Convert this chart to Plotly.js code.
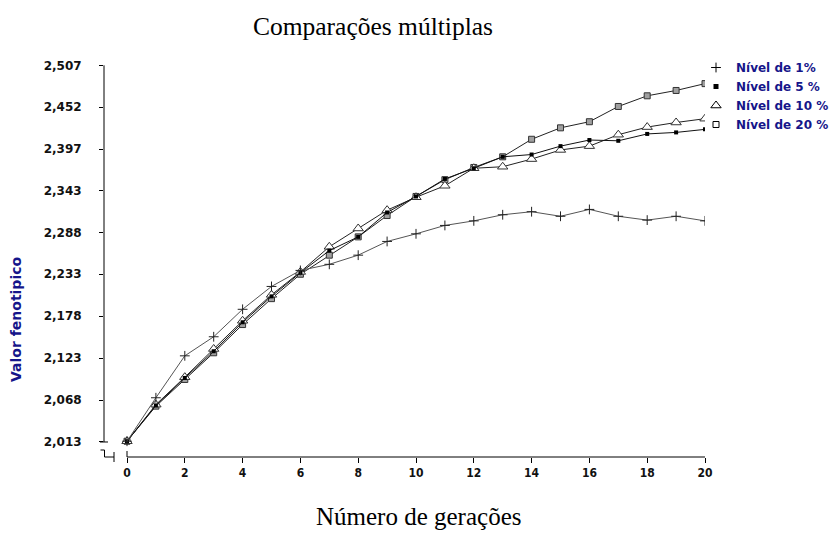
<!DOCTYPE html>
<html>
<head>
<meta charset="utf-8">
<script src="https://cdn.plot.ly/plotly-3.0.1.min.js"></script>
<style>html,body{margin:0;padding:0;background:#fff;}#chart{width:829px;height:533px;}</style>
</head>
<body>
<div id="chart"></div>
<script>
// ---- data ----
var geracoes = [0,1,2,3,4,5,6,7,8,9,10,11,12,13,14,15,16,17,18,19,20];
var nivel1  = [2.014,2.071,2.126,2.151,2.187,2.217,2.238,2.246,2.258,2.276,2.286,2.297,2.303,2.311,2.315,2.309,2.318,2.309,2.304,2.309,2.303];
var nivel5  = [2.014,2.061,2.097,2.132,2.170,2.204,2.235,2.264,2.282,2.314,2.335,2.358,2.372,2.387,2.390,2.401,2.409,2.408,2.417,2.419,2.423];
var nivel10 = [2.014,2.062,2.098,2.135,2.172,2.206,2.236,2.269,2.293,2.317,2.334,2.349,2.372,2.374,2.384,2.396,2.401,2.416,2.426,2.432,2.437];
var nivel20 = [2.014,2.060,2.095,2.130,2.167,2.201,2.233,2.258,2.282,2.310,2.335,2.357,2.373,2.387,2.410,2.425,2.433,2.453,2.467,2.474,2.483];
var seriesNames = ['Nível de 1%','Nível de 5 %','Nível de 10 %','Nível de 20 %'];
var yTickVals  = [2.013,2.068,2.123,2.178,2.233,2.288,2.343,2.397,2.452,2.507];
var yTickText  = ['2,013','2,068','2,123','2,178','2,233','2,288','2,343','2,397','2,452','2,507'];
var xTickVals  = [0,2,4,6,8,10,12,14,16,18,20];

// ---- layout geometry (pixels) ----
var W = 829, H = 533;
var M = {l:104, r:124, t:65, b:76, autoexpand:false};
var plotW = W - M.l - M.r, plotH = H - M.t - M.b;
function px(x){ return (x - M.l) / plotW; }      // pixel -> paper x
function py(y){ return (H - M.b - y) / plotH; }  // pixel -> paper y

var styles = [
  {symbol:'cross-thin', size:7, color:'#222', line:{width:1, color:'#222'}, lc:'#555'},
  {symbol:'square', size:4, color:'#000', line:{width:0}, lc:'#111'},
  {symbol:'triangle-up', size:9, color:'#ffffff', line:{width:1, color:'#333'}, lc:'#222'},
  {symbol:'square', size:6, color:'#a0a0a0', line:{width:1, color:'#333'}, lc:'#222'}
];
var legendSyms = [
  {symbol:'cross-thin', size:7, color:'#000', line:{width:1, color:'#000'}},
  {symbol:'square', size:5, color:'#000', line:{width:0}},
  {symbol:'triangle-up-open', size:9, color:'#000', line:{width:1}},
  {symbol:'square-open', size:6, color:'#000', line:{width:1}}
];
var ys = [nivel1, nivel5, nivel10, nivel20];
var traces = [];
for (var i = ys.length - 1; i >= 0; i--) {
  var s = styles[i];
  traces.push({
    x: geracoes, y: ys[i], type:'scatter', mode:'lines+markers', name: seriesNames[i],
    showlegend:false,
    line:{color:s.lc, width:1},
    marker:{symbol:s.symbol, size:s.size, color:s.color, line:s.line}
  });
}
for (var j = 0; j < ys.length; j++) {
  traces.push({
    x:[null], y:[null], type:'scatter', mode:'markers', name: seriesNames[j],
    marker: legendSyms[j]
  });
}

var tickFont = {family:'DejaVu Sans, Verdana, sans-serif', size:12, color:'#111', weight:'bold'};
var navy = '#15158a';

var shapes = [
  {type:'line', xref:'paper', yref:'y', x0:0, x1:0, y0:2.013, y1:2.507, line:{color:'#000', width:1}},
  {type:'line', xref:'paper', yref:'y', x0:px(100), x1:px(108), y0:2.013, y1:2.013, line:{color:'#000', width:1}},
  {type:'path', xref:'paper', yref:'paper',
   path:'M '+px(100.5)+','+py(450)+' L '+px(104.5)+','+py(450)+' L '+px(104.5)+','+py(457)+' L '+px(114)+','+py(457),
   line:{color:'#000', width:1}},
  {type:'line', xref:'paper', yref:'paper', x0:px(114), x1:px(114), y0:py(452), y1:py(462), line:{color:'#000', width:1}},
  {type:'line', xref:'x', yref:'paper', x0:0, x1:20, y0:0, y1:0, line:{color:'#000', width:1}},
  {type:'line', xref:'x', yref:'paper', x0:0, x1:0, y0:py(451), y1:0, line:{color:'#000', width:1}}
];

var layout = {
  width:W, height:H, margin:M,
  paper_bgcolor:'#fff', plot_bgcolor:'#fff',
  font:{family:'DejaVu Sans, sans-serif', color:'#000'},
  title:{text:'Comparações múltiplas', font:{family:'Liberation Serif, Times New Roman, serif', size:25.5, color:'#000'},
         x:373/W, xref:'container', xanchor:'center', y:1-26/H, yref:'container', yanchor:'middle'},
  xaxis:{range:[-(127-104)/28.9, 20], showline:false, zeroline:false, showgrid:false,
         tickmode:'array', tickvals:xTickVals, ticks:'outside', ticklen:5, tickwidth:1, tickcolor:'#000',
         tickfont:{family:'Liberation Sans Narrow, DejaVu Sans Condensed, sans-serif', size:12, color:'#111', weight:'bold'}},
  yaxis:{range:[2.013-15/762, 2.5074], showline:false, zeroline:false, showgrid:false,
         tickmode:'array', tickvals:yTickVals, ticktext:yTickText, ticks:'outside', ticklen:4, tickwidth:1, tickcolor:'#000',
         tickfont:tickFont, ticklabelstandoff:15},
  showlegend:true,
  legend:{x:px(696), xanchor:'left', y:py(53), yanchor:'top', bgcolor:'rgba(0,0,0,0)',
          font:{family:'DejaVu Sans, Verdana, sans-serif', size:12, color:navy, weight:'bold'},
          itemwidth:30, tracegroupgap:0},
  shapes:shapes,
  annotations:[
    {text:'Número de gerações', xref:'paper', yref:'paper', x:px(418), y:py(516), xanchor:'center', yanchor:'middle',
     showarrow:false, font:{family:'Liberation Serif, Times New Roman, serif', size:25, color:'#000'}},
    {text:'Valor fenotipico', xref:'paper', yref:'paper', x:px(16), y:py(320), xanchor:'center', yanchor:'middle',
     textangle:-90, showarrow:false, font:{family:'DejaVu Sans, Verdana, sans-serif', size:14, color:navy, weight:'bold'}}
  ]
};
Plotly.newPlot('chart', traces, layout, {displayModeBar:false, staticPlot:true});
</script>
</body>
</html>
